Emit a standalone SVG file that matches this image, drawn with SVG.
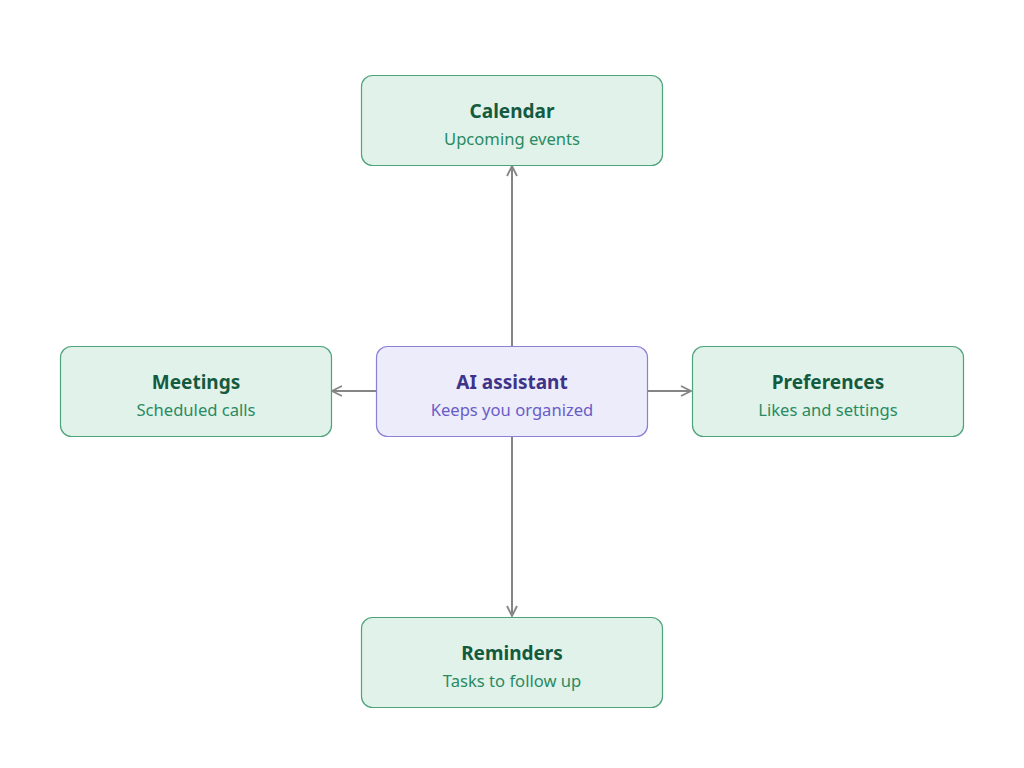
<svg xmlns="http://www.w3.org/2000/svg" width="1024" height="768" viewBox="0 0 1024 768">
<defs>
<marker id="arr" viewBox="0 0 12 12" refX="11" refY="6" markerWidth="12" markerHeight="12" markerUnits="userSpaceOnUse" orient="auto">
<path d="M1,1 L11,6 L1,11" fill="none" stroke="#858585" stroke-width="1.8"/>
</marker>
<style>
.g rect{fill:#e0f2ea;stroke:#4fa37b;stroke-width:1.2}
.p rect{fill:#ececfb;stroke:#8b7fd6;stroke-width:1.2}
text{font-family:"Noto Sans","Open Sans",sans-serif;text-anchor:middle}
.t{font-size:19px;font-weight:bold}
.s{font-size:16.6px}
.g .t{fill:#145a3f}
.g .s{fill:#2a8a62}
.p .t{fill:#3d3389}
.p .s{fill:#6a5cc7}
.c line{stroke:#858585;stroke-width:2;marker-end:url(#arr)}
</style>
</defs>
<rect width="1024" height="768" fill="#ffffff"/>
<g class="c" id="connectors">
<line x1="512" y1="346" x2="512" y2="166"/>
<line x1="376" y1="391" x2="332" y2="391"/>
<line x1="647" y1="391" x2="691" y2="391"/>
<line x1="512" y1="436" x2="512" y2="616"/>
</g>
<g id="calendar" class="g">
<rect x="361.5" y="75.5" width="301" height="90" rx="11"/>
<text class="t" x="512" y="118">Calendar</text>
<text class="s" x="512" y="144.5">Upcoming events</text>
</g>
<g id="assistant" class="p">
<rect x="376.5" y="346.5" width="271" height="90" rx="11"/>
<text class="t" x="512" y="389">AI assistant</text>
<text class="s" x="512" y="415.5">Keeps you organized</text>
</g>
<g id="meetings" class="g">
<rect x="60.5" y="346.5" width="271" height="90" rx="11"/>
<text class="t" x="196" y="389">Meetings</text>
<text class="s" x="196" y="415.5">Scheduled calls</text>
</g>
<g id="preferences" class="g">
<rect x="692.5" y="346.5" width="271" height="90" rx="11"/>
<text class="t" x="828" y="389">Preferences</text>
<text class="s" x="828" y="415.5">Likes and settings</text>
</g>
<g id="reminders" class="g">
<rect x="361.5" y="617.5" width="301" height="90" rx="11"/>
<text class="t" x="512" y="660">Reminders</text>
<text class="s" x="512" y="686.5">Tasks to follow up</text>
</g>
</svg>
